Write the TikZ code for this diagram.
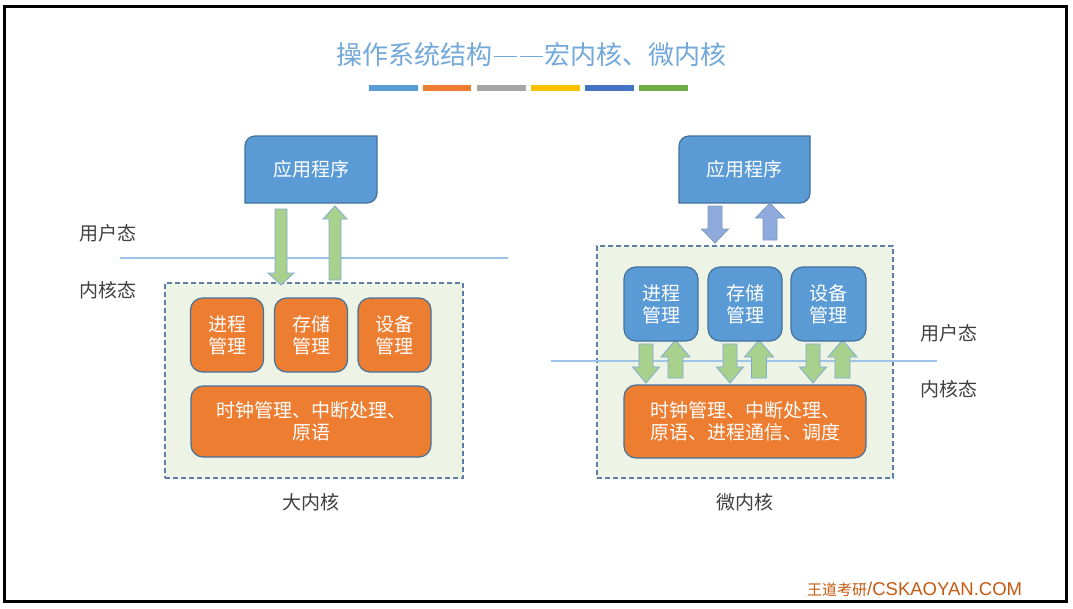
\documentclass[tikz,border=0pt]{standalone}
\usepackage{fontspec}
\setmainfont{Liberation Sans}
\newfontfamily\cjk{Noto Sans CJK SC}
\definecolor{ablue}{HTML}{5B9BD5}
\definecolor{aborder}{HTML}{41719C}
\definecolor{aorange}{HTML}{ED7D31}
\definecolor{agreen}{HTML}{A9D18E}
\definecolor{apurple}{HTML}{8FAADC}
\definecolor{kfill}{HTML}{EEF4E5}
\definecolor{kdash}{HTML}{5B80A8}
\definecolor{sepline}{HTML}{9DC3E6}
\definecolor{titlec}{HTML}{73A8DA}
\definecolor{labelc}{HTML}{404040}
\definecolor{footc}{HTML}{C55A11}
\definecolor{bar1}{HTML}{5B9BD5}
\definecolor{bar2}{HTML}{ED7D31}
\definecolor{bar3}{HTML}{A5A5A5}
\definecolor{bar4}{HTML}{FFC000}
\definecolor{bar5}{HTML}{4472C4}
\definecolor{bar6}{HTML}{70AD47}
\tikzset{
  box/.style={draw=aborder, line width=1.2pt, rounded corners=12pt, text=white,
    font=\cjk\fontsize{19}{22}\selectfont, align=center, inner sep=0pt},
  obox/.style={box, fill=aorange},
  bbox/.style={box, fill=ablue},
  kbox/.style={draw=kdash, dash pattern=on 5pt off 3pt, line width=1.3pt, fill=kfill, inner sep=0pt},
  lab/.style={text=labelc, font=\cjk\fontsize{19}{22}\selectfont},
  apptext/.style={text=white, font=\cjk\fontsize{19}{22}\selectfont},
  appshape/.style={fill=ablue, draw=aborder, line width=1.2pt},
  garrow/.style={fill=agreen, draw=sepline!70!aborder, line width=0.8pt},
  parrow/.style={fill=apurple, draw=aborder!70, line width=0.8pt},
  sep/.style={draw=sepline, line width=1.5pt},
}
% #1 style, #2 x, #3 ytop, #4 ytip, #5 shaft half width, #6 head half width, #7 head length
\newcommand\arrdown[7]{\draw[#1] ({#2-#5},#3) -- ({#2+#5},#3) -- ({#2+#5},{#4-#7}) -- ({#2+#6},{#4-#7}) -- (#2,#4) -- ({#2-#6},{#4-#7}) -- ({#2-#5},{#4-#7}) -- cycle;}
% #3 ybottom
\newcommand\arrup[7]{\draw[#1] ({#2-#5},#3) -- ({#2+#5},#3) -- ({#2+#5},{#4+#7}) -- ({#2+#6},{#4+#7}) -- (#2,#4) -- ({#2-#6},{#4+#7}) -- ({#2-#5},{#4+#7}) -- cycle;}
% #1 name, #2 x1, #3 y1, #4 x2, #5 y2, #6 text
\newcommand\appbox[6]{%
  \draw[appshape] (#2,#5) -- (#2,{#3+10}) arc[start angle=180, end angle=270, radius=10]
    -- (#4,#3) -- (#4,{#5-10}) arc[start angle=0, end angle=90, radius=10] -- cycle;
  \node[apptext] (#1) at ({(#2+#4)/2},{(#3+#5)/2}) {#6};}
\newcommand\tdash{\hspace{1.5pt}\rule[8pt]{23pt}{1.3pt}\hspace{1.5pt}}
\begin{document}
\begin{tikzpicture}[x=1pt, y=-1pt]
\useasboundingbox (0,0) rectangle (1073,608);
\fill[white] (0,0) rectangle (1073,608);
\draw[line width=3pt, black] (4.5,6.5) rectangle (1066.5,601.5);
% title
\node[text=titlec, font=\cjk\fontsize{26}{30}\selectfont] (title) at (531,55) {操作系统结构\tdash\tdash 宏内核、微内核};
\fill[bar1] (369,85) rectangle (418,91);
\fill[bar2] (423,85) rectangle (471,91);
\fill[bar3] (477,85) rectangle (526,91);
\fill[bar4] (531,85) rectangle (580,91);
\fill[bar5] (585,85) rectangle (634,91);
\fill[bar6] (639,85) rectangle (688,91);
% kernel boxes
\node[kbox, minimum width=298pt, minimum height=195pt] (lk) at (314,380.5) {};
\node[kbox, minimum width=296pt, minimum height=232pt] (rk) at (745,362) {};
% separators
\coordinate (ls1) at (120,258); \coordinate (ls2) at (508,258);
\draw[sep] (ls1) -- (ls2);
\coordinate (rs1) at (551,361); \coordinate (rs2) at (937,361);
\draw[sep] (rs1) -- (rs2);
% application boxes
\appbox{la}{245}{136}{377}{203}{应用程序}
\appbox{ra}{679}{136}{810}{203}{应用程序}
% arrows left
\arrdown{garrow}{281}{209}{285}{6}{13}{12}
\arrup{garrow}{335}{280}{206}{6}{12}{13}
% arrows right top
\arrdown{parrow}{715}{206}{243}{7}{13.5}{14}
\arrup{parrow}{770}{240}{203}{7}{14.5}{15}
% arrows right lower
\arrdown{garrow}{646}{344}{383}{7}{13.5}{16}
\arrup{garrow}{675.5}{378}{340}{7.5}{14.5}{17}
\arrdown{garrow}{730}{344}{383}{7}{13.5}{16}
\arrup{garrow}{759}{378}{340}{7.5}{14.5}{17}
\arrdown{garrow}{813}{344}{383}{7}{13.5}{16}
\arrup{garrow}{842.5}{378}{340}{7.5}{14.5}{17}
% left inner boxes
\node[obox, minimum width=73pt, minimum height=74pt] (l1) at (227,335) {进程\\管理};
\node[obox, minimum width=73pt, minimum height=74pt] (l2) at (311,335) {存储\\管理};
\node[obox, minimum width=73pt, minimum height=74pt] (l3) at (394.5,335) {设备\\管理};
\node[obox, minimum width=240pt, minimum height=71pt] (l4) at (311,421.5) {时钟管理、中断处理、\\原语};
% right inner boxes
\node[bbox, minimum width=74pt, minimum height=74pt] (r1) at (661,304) {进程\\管理};
\node[bbox, minimum width=74pt, minimum height=74pt] (r2) at (745,304) {存储\\管理};
\node[bbox, minimum width=75pt, minimum height=74pt] (r3) at (828.5,304) {设备\\管理};
\node[obox, minimum width=242pt, minimum height=73pt] (r4) at (745,421.5) {时钟管理、中断处理、\\原语、进程通信、调度};
% labels
\node[lab] (lu) at (108,233) {用户态};
\node[lab] (lkn) at (108,290) {内核态};
\node[lab] (ru) at (949,333) {用户态};
\node[lab] (rkn) at (949,389) {内核态};
\node[lab] (lname) at (311,502) {大内核};
\node[lab] (rname) at (745,502) {微内核};
% footer
\node[anchor=west, text=footc, inner sep=0pt] (foot) at (807,589) {{\cjk\fontsize{15}{18}\selectfont 王道考研}\fontsize{18.5}{20}\selectfont/CSKAOYAN.COM};
\end{tikzpicture}
\end{document}
